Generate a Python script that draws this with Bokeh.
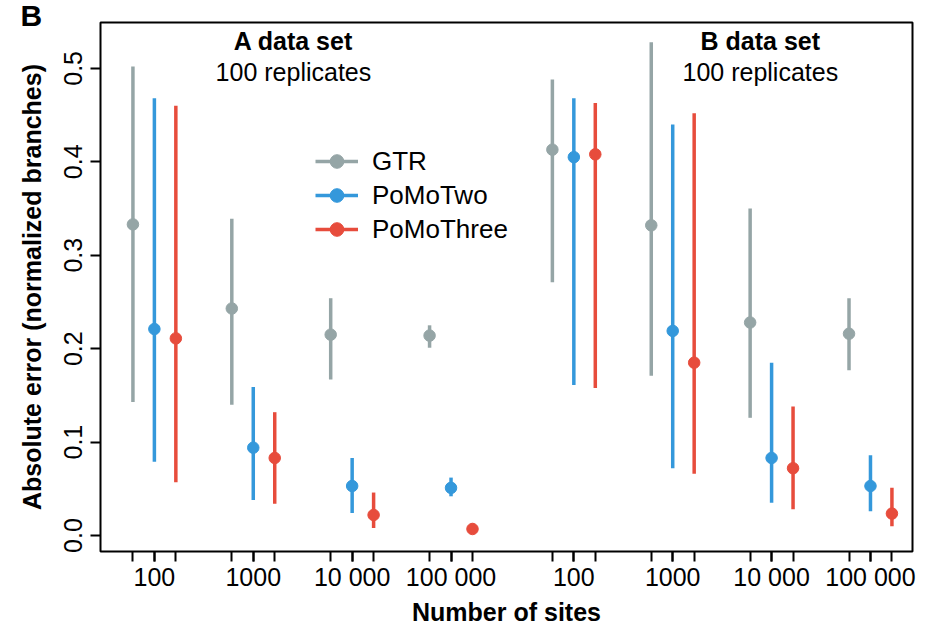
from bokeh.plotting import figure
from bokeh.models import (ColumnDataSource, FixedTicker, CustomJSTickFormatter,
                          PrintfTickFormatter, Label, Legend, LegendItem, Range1d, Title)
from bokeh.embed import file_html
from bokeh.resources import INLINE

# ---------------- data ----------------
panel_letter = "B"
site_labels = ["100", "1000", "10 000", "100 000"]
dataset_titles = ["A data set", "B data set"]
replicates_text = "100 replicates"
methods = ["GTR", "PoMoTwo", "PoMoThree"]
colors = ["#95A5A6", "#3498DB", "#E74C3C"]

# A data set (sites 100, 1000, 10000, 100000)
gtr_a_mean = [0.333, 0.243, 0.215, 0.214]
gtr_a_low = [0.143, 0.140, 0.167, 0.201]
gtr_a_high = [0.502, 0.339, 0.254, 0.225]
two_a_mean = [0.221, 0.094, 0.053, 0.051]
two_a_low = [0.079, 0.038, 0.024, 0.042]
two_a_high = [0.468, 0.159, 0.083, 0.062]
three_a_mean = [0.211, 0.083, 0.022, 0.007]
three_a_low = [0.057, 0.034, 0.008, 0.003]
three_a_high = [0.460, 0.132, 0.046, 0.013]

# B data set
gtr_b_mean = [0.413, 0.332, 0.228, 0.216]
gtr_b_low = [0.271, 0.171, 0.126, 0.177]
gtr_b_high = [0.488, 0.528, 0.350, 0.254]
two_b_mean = [0.405, 0.219, 0.083, 0.053]
two_b_low = [0.161, 0.072, 0.035, 0.026]
two_b_high = [0.468, 0.440, 0.185, 0.086]
three_b_mean = [0.408, 0.185, 0.072, 0.0235]
three_b_low = [0.158, 0.066, 0.028, 0.010]
three_b_high = [0.463, 0.452, 0.138, 0.051]

series = [
    (gtr_a_mean + gtr_b_mean, gtr_a_low + gtr_b_low, gtr_a_high + gtr_b_high),
    (two_a_mean + two_b_mean, two_a_low + two_b_low, two_a_high + two_b_high),
    (three_a_mean + three_b_mean, three_a_low + three_b_low, three_a_high + three_b_high),
]

# ---------------- layout ----------------
FONT = "Liberation Sans"
FS = "25px"
DATASET_SHIFT = 4.242
OFFSET = 0.217
n_groups = len(site_labels)
centers = [g + d * DATASET_SHIFT for d in range(2) for g in range(n_groups)]
offsets = [-OFFSET, 0.0, OFFSET]

p = figure(width=920, height=628,
           x_range=Range1d(-0.545, 7.667), y_range=Range1d(-0.0171, 0.5491),
           output_backend="svg", toolbar_location=None,
           min_border_left=100, min_border_right=8, min_border_top=22, min_border_bottom=76)
p.title = Title(text=panel_letter, align="left", offset=-80, standoff=-18,
                text_font=FONT, text_font_style="bold", text_font_size="30px",
                text_color="black")
p.xgrid.visible = False
p.ygrid.visible = False
p.outline_line_color = "black"
p.outline_line_width = 2
p.background_fill_color = "white"
p.border_fill_color = "white"

legend_items = []
for m, col, (mean, low, high), off in zip(methods, colors, series, offsets):
    xs = [c + off for c in centers]
    src = ColumnDataSource(dict(x=xs, mean=mean, low=low, high=high))
    seg = p.segment(x0="x", y0="low", x1="x", y1="high", source=src,
                    line_color=col, line_width=3.5)
    sc = p.scatter("x", "mean", source=src, marker="circle", size=11.5,
                   fill_color=col, line_color=col)
    legend_items.append(LegendItem(label=m, renderers=[seg, sc]))

all_ticks = sorted(c + o for c in centers for o in offsets)

xa = p.xaxis[0]
xa.ticker = FixedTicker(ticks=centers, minor_ticks=all_ticks)
xa.formatter = CustomJSTickFormatter(args=dict(labels=site_labels * 2),
                                     code="return labels[index] || '';")
xa.axis_label = "Number of sites"
ya = p.yaxis[0]
ya.ticker = FixedTicker(ticks=[0.0, 0.1, 0.2, 0.3, 0.4, 0.5])
ya.formatter = PrintfTickFormatter(format="%.1f")
ya.axis_label = "Absolute error (normalized branches)"
ya.major_label_orientation = "parallel"

for ax in (xa, ya):
    ax.axis_line_color = None
    ax.major_tick_in = 0
    ax.major_tick_out = 10
    ax.major_tick_line_width = 2
    ax.major_tick_line_color = "black"
    ax.minor_tick_in = 0
    ax.minor_tick_out = 10
    ax.minor_tick_line_width = 2
    ax.minor_tick_line_color = "black"
    ax.major_label_text_font = FONT
    ax.major_label_text_font_size = FS
    ax.major_label_text_color = "black"
    ax.axis_label_text_font = FONT
    ax.axis_label_text_font_size = FS
    ax.axis_label_text_font_style = "bold"
    ax.axis_label_text_color = "black"
ya.minor_tick_out = 0
xa.major_label_standoff = 1
xa.axis_label_standoff = 4
ya.major_label_standoff = 8
ya.axis_label_standoff = 16

legend = Legend(items=legend_items, location=(215, 305), orientation="vertical",
                padding=0, margin=0, spacing=0, glyph_width=43, glyph_height=34,
                label_height=34, label_standoff=14, label_text_font=FONT,
                label_text_font_size="26px", label_text_color="black",
                border_line_color=None, background_fill_alpha=0)
p.add_layout(legend)

title_x = [1.406, 6.128]
for tx, ttl in zip(title_x, dataset_titles):
    p.add_layout(Label(x=tx, y=0.5295, text=ttl, text_align="center",
                       text_baseline="alphabetic", text_font=FONT,
                       text_font_style="bold", text_font_size=FS,
                       text_color="black"))
    p.add_layout(Label(x=tx, y=0.4956, text=replicates_text, text_align="center",
                       text_baseline="alphabetic", text_font=FONT,
                       text_font_size=FS, text_color="black"))

open("out.html", "w").write(file_html(p, INLINE))
